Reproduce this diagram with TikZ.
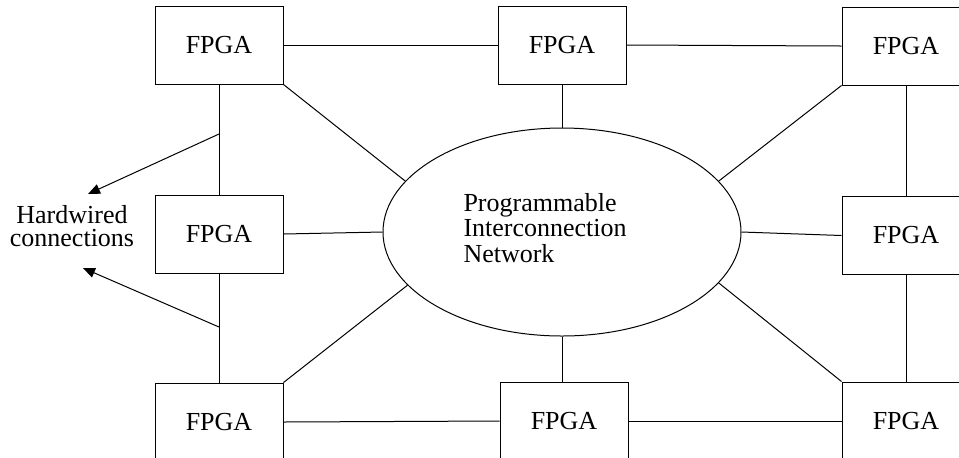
\documentclass[tikz,border=0pt]{standalone}
\usepackage{fontspec}
\setmainfont{Liberation Serif}
\usetikzlibrary{shapes.geometric, arrows.meta}

\begin{document}
\begin{tikzpicture}[x=0.5pt, y=-0.5pt, line width=0.5pt,
  fpga/.style={draw, rectangle, minimum width=64pt, minimum height=39pt, inner sep=0pt, font=\fontsize{13}{13}\selectfont},
  netbox/.style={draw, ellipse, minimum width=179pt, minimum height=104pt, inner sep=0pt},
  txt/.style={inner sep=0pt, font=\fontsize{13}{12.8}\selectfont},
  hw/.style={-{Triangle[length=6pt, width=5pt]}}]
  \useasboundingbox (0,0) rectangle (959,457);

  \node[fpga] (tl) at (219,45) {FPGA};
  \node[fpga] (tm) at (562,45) {FPGA};
  \node[fpga] (tr) at (906,46) {FPGA};

  \node[fpga] (ml) at (219,234) {FPGA};
  \node[fpga] (mr) at (906,235.5) {FPGA};

  \node[fpga] (bl) at (219,422) {FPGA};
  \node[fpga] (bm) at (564,421) {FPGA};
  \node[fpga] (br) at (906,421) {FPGA};

  \node[netbox] (net) at (562,232) {};
  \node[txt, align=left, anchor=west] (netlabel) at (463,228) {Programmable\\Interconnection\\Network};

  % rows and columns
  \draw (tl.east) -- (tm.west);
  \draw (tm.east) -- (tr.west);
  \draw (bl.east) -- (bm.west);
  \draw (bm.east) -- (br.west);
  \draw (tl.south) -- (ml.north);
  \draw (ml.south) -- (bl.north);
  \draw (tr.south) -- (mr.north);
  \draw (mr.south) -- (br.north);

  % to the network
  \draw (tm.south) -- (net.north);
  \draw (net.south) -- (net.south |- bm.north);
  \draw (ml.east) -- (net.west);
  \draw (net.east) -- (mr.west);
  \draw (tl.south east) -- (net.162);
  \draw (tr.south west) -- (net.18);
  \draw (bl.north east) -- (net.199);
  \draw (br.north west) -- (net.342);

  % hardwired connections
  \node[txt, align=center, font=\fontsize{13}{11.5}\selectfont] (hwlabel) at (72,226) {Hardwired\\connections};
  \coordinate (hw1) at (219,134);
  \coordinate (hw2) at (219,327);
  \coordinate (hwtip1) at (88,194);
  \coordinate (hwtip2) at (83,268);
  \draw[hw] (hw1) -- (hwtip1);
  \draw[hw] (hw2) -- (hwtip2);
\end{tikzpicture}
\end{document}
